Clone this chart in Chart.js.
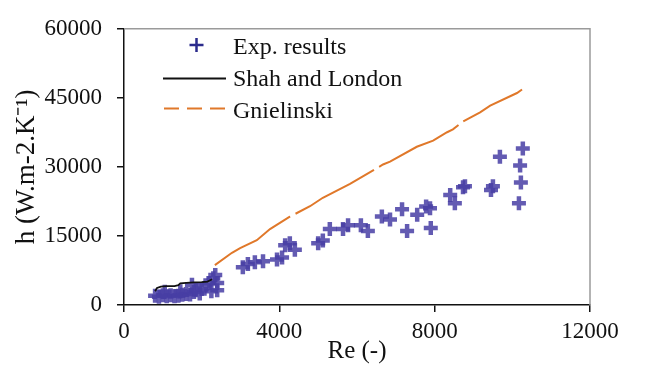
<!DOCTYPE html>
<html>
<head>
<meta charset="utf-8">
<script src="https://cdn.jsdelivr.net/npm/chart.js@4/dist/chart.umd.min.js"></script>
<style>
  body { margin: 0; background: #fff; }
  canvas { display: block; }
</style>
</head>
<body>
<canvas id="hChart" width="646" height="374"></canvas>
<script>
// experimental points (Re, h)
const expRe = [800, 900, 1000, 1100, 1200, 1300, 1400, 1500, 1600, 1700, 1800, 1850, 1950, 2000, 2100, 2200, 2250, 2300, 2350, 2400, 2400, 1050, 1450, 1750,
    3060, 3190, 3370, 3580, 3940, 4070, 4150, 4270, 4400, 5000, 5120, 5300, 5640, 5770, 6100, 6280, 6640, 6850, 7160, 7290, 7550, 7780, 7880, 7900,
    8400, 8520, 8730, 8780, 9450, 9500, 9680, 10270, 10200, 10220, 10170]
const expH = [2000, 1800, 2100, 1900, 2100, 1900, 2000, 2200, 2400, 2300, 2800, 3200, 2500, 3500, 4300, 4700, 3000, 5800, 6500, 4800, 3200, 2900, 3000, 4400,
    8200, 8900, 9300, 9500, 9900, 10300, 13000, 13400, 12000, 13400, 14000, 16500, 16500, 17300, 17300, 16100, 19200, 18600, 20800, 16100, 19600, 21400, 21000, 16700,
    23900, 22100, 25600, 25800, 25000, 25800, 32200, 34000, 30300, 26600, 22100]

// Shah and London correlation
const shahRe = [800, 850, 950, 1100, 1300, 1400, 1450, 1600, 1800, 2000, 2150, 2270]
const shahH = [3000, 3700, 4000, 4100, 4100, 4300, 4700, 4800, 4900, 4950, 5100, 5600]

// Gnielinski correlation
const gnielRe = [2340, 2780, 2990, 3420, 3760, 4270, 4790, 5120, 5820, 6670, 6850, 7540, 7960, 8320, 8470, 8730, 9170, 9430, 10120, 10250]
const gnielH = [8660, 11340, 12370, 14080, 16500, 19180, 21450, 23300, 26290, 30520, 31140, 34370, 35700, 37530, 38150, 39860, 41860, 43300, 46050, 46810]

const xTicks = [0, 4000, 8000, 12000]
const yTicks = [0, 15000, 30000, 45000, 60000]

const toPoints = (xs, ys) => xs.map((x, i) => ({ x: x, y: ys[i] }))

const serif = 'Liberation Serif'
const expColor = 'rgba(72, 62, 165, 0.85)'
const gnielColor = '#e0782a'

// gray top/right frame of plot area
const frame = {
    id: 'frame',
    beforeDatasetsDraw(chart) {
        const { ctx, chartArea: a } = chart
        ctx.save()
        ctx.strokeStyle = '#9a9a9a'
        ctx.lineWidth = 1.5
        ctx.beginPath()
        ctx.moveTo(a.left, a.top)
        ctx.lineTo(a.right, a.top)
        ctx.lineTo(a.right, a.bottom)
        ctx.stroke()
        ctx.restore()
    }
}

// legend inside plot area
const innerLegend = {
    id: 'innerLegend',
    afterDatasetsDraw(chart) {
        const ctx = chart.ctx
        ctx.save()
        ctx.font = '24px "' + serif + '"'
        ctx.fillStyle = '#111'
        ctx.textBaseline = 'middle'
        ctx.fillText('Exp. results', 233, 48)
        ctx.fillText('Shah and London', 233, 80)
        ctx.fillText('Gnielinski', 233, 112)

        ctx.strokeStyle = '#2b2b8c'
        ctx.lineWidth = 2.5
        ctx.beginPath()
        ctx.moveTo(189.5, 45); ctx.lineTo(203.5, 45)
        ctx.moveTo(196.5, 38); ctx.lineTo(196.5, 52)
        ctx.stroke()

        ctx.strokeStyle = '#111'
        ctx.lineWidth = 1.8
        ctx.beginPath()
        ctx.moveTo(163, 78.5); ctx.lineTo(226, 78.5)
        ctx.stroke()

        ctx.strokeStyle = gnielColor
        ctx.lineWidth = 2
        ctx.setLineDash([15, 8])
        ctx.beginPath()
        ctx.moveTo(164, 108.5); ctx.lineTo(226, 108.5)
        ctx.stroke()
        ctx.restore()
    }
}

const hChart = new Chart(document.getElementById('hChart'), {
    type: 'scatter',
    data: {
        datasets: [{
            label: 'Shah and London',
            data: toPoints(shahRe, shahH),
            showLine: true,
            borderColor: '#111',
            borderWidth: 1.8,
            pointRadius: 0
        }, {
            label: 'Exp. results',
            data: toPoints(expRe, expH),
            pointStyle: 'cross',
            pointRadius: 7,
            pointBorderWidth: 4.5,
            borderColor: expColor,
            backgroundColor: expColor
        }, {
            label: 'Gnielinski',
            data: toPoints(gnielRe, gnielH),
            showLine: true,
            borderColor: gnielColor,
            borderWidth: 2,
            borderDash: [90, 6],
            pointRadius: 0
        }]
    },
    options: {
        responsive: false,
        animation: false,
        layout: { padding: { top: 14, right: 56, left: 0, bottom: 0 } },
        plugins: { legend: { display: false }, tooltip: { enabled: false } },
        scales: {
            x: {
                type: 'linear',
                min: 0,
                max: 12000,
                afterBuildTicks: s => { s.ticks = xTicks.map(v => ({ value: v })) },
                afterFit: s => { s.height = 69 },
                ticks: { color: '#111', padding: 6, font: { family: serif, size: 23 }, callback: v => String(v) },
                grid: { drawOnChartArea: false, color: '#111', tickLength: 7, lineWidth: 1.5 },
                border: { color: '#111', width: 1.5 },
                title: { display: true, text: 'Re (-)', color: '#111', font: { family: serif, size: 25 }, padding: { top: 0, bottom: 8 } }
            },
            y: {
                min: 0,
                max: 60000,
                afterBuildTicks: s => { s.ticks = yTicks.map(v => ({ value: v })) },
                afterFit: s => { s.width = 124 },
                ticks: { color: '#111', padding: 15, font: { family: serif, size: 23 }, callback: v => String(v) },
                grid: { drawOnChartArea: false, color: '#111', tickLength: 7, lineWidth: 1.5 },
                border: { color: '#111', width: 1.5 },
                title: { display: true, text: 'h (W.m-2.K⁻¹)', color: '#111', font: { family: serif, size: 27 }, padding: { top: 11, bottom: 0 } }
            }
        }
    },
    plugins: [frame, innerLegend]
});
</script>
</body>
</html>
